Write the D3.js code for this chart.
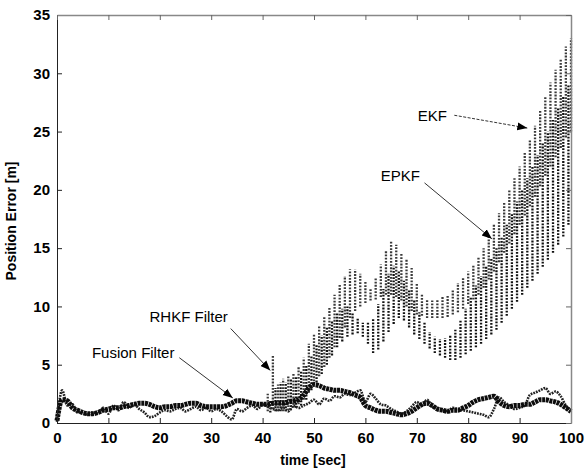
<!DOCTYPE html>
<html><head><meta charset="utf-8">
<script src="https://cdn.jsdelivr.net/npm/d3@7"></script>
<style>
html,body{margin:0;padding:0;background:#fff;}
text{font-family:"Liberation Sans",Arial,Helvetica,sans-serif;}
</style></head>
<body><svg id="c" width="587" height="473"></svg>
<script>
// ---- data ----
const xTicks = [0,10,20,30,40,50,60,70,80,90,100];
const yTicks = [0,5,10,15,20,25,30,35];

// Fusion filter, 1-s samples t=0..100
const fusionT = d3.range(0,101);
const fusionV = [0.2,2.0,1.9,1.3,1.1,0.9,0.8,0.8,0.9,1.1,1.2,1.3,1.3,1.4,1.5,1.6,1.7,1.7,1.6,1.4,
 1.3,1.4,1.4,1.5,1.5,1.6,1.7,1.7,1.5,1.4,1.4,1.4,1.4,1.5,1.7,1.9,1.9,1.8,1.7,1.6,
 1.6,1.6,1.7,1.7,1.7,1.8,1.9,2.0,2.4,3.0,3.3,3.2,3.0,2.9,2.8,2.8,2.7,2.6,2.4,2.2,
 1.5,1.3,1.1,1.0,1.0,0.9,0.8,0.7,0.8,1.0,1.3,1.6,1.7,1.5,1.2,1.1,1.0,1.1,1.1,1.3,
 1.5,1.8,2.0,2.1,2.2,2.3,1.8,1.5,1.4,1.5,1.5,1.6,1.6,1.8,2.0,2.0,1.9,1.8,1.6,1.3,1.0];

// RHKF filter, 1-s samples t=0..100
const rhkfV = [0.1,2.8,1.5,1.6,0.9,1.0,0.7,0.9,0.8,1.3,0.8,1.5,1.1,1.8,1.3,1.6,1.2,0.9,0.5,0.6,
 0.9,1.1,1.0,1.2,1.3,1.0,1.2,1.4,1.1,1.3,1.0,1.2,1.0,0.6,0.3,1.2,1.0,1.3,1.5,1.2,
 1.6,1.4,1.2,1.1,1.3,1.0,1.5,1.3,1.5,1.7,2.0,1.6,2.1,1.9,2.3,2.2,2.5,2.4,2.6,2.8,
 1.8,2.5,2.1,1.6,1.5,1.2,1.0,0.8,1.0,1.4,1.8,1.5,2.0,1.4,1.3,1.1,1.0,1.3,1.2,1.1,
 1.0,0.9,0.8,0.7,0.5,1.2,2.2,1.8,1.5,1.2,1.3,1.5,2.4,2.6,2.8,3.0,2.5,2.7,2.3,1.5,1.1];

// EKF oscillation columns (time, min, max)
const ekfT = d3.range(41,101);
const ekfLow = [1.0,1.2,1.0,1.0,1.1,1.3,1.6,2.0,2.6,3.3,4.0,4.8,5.6,6.5,7.3,8.2,9.0,9.6,10.0,10.3,
 10.5,10.6,10.8,11.0,11.0,10.8,10.5,10.0,9.6,9.3,9.2,9.0,9.0,9.0,9.0,9.1,9.3,9.5,9.8,10.2,
 10.6,11.0,11.6,12.3,13.0,13.8,14.6,15.4,16.2,17.0,17.8,18.6,19.4,20.3,21.2,22.0,22.8,23.6,24.5,25.0];
const ekfHigh = [2.5,5.8,3.3,3.8,4.0,4.3,4.8,5.6,6.8,7.6,8.3,9.2,10.0,11.0,11.9,12.6,13.2,13.2,12.8,12.2,
 11.6,12.4,13.6,14.8,15.6,15.3,14.6,14.0,13.3,12.0,11.0,10.6,10.5,10.6,10.8,11.0,11.4,12.0,12.5,13.0,
 13.5,14.2,15.0,16.0,17.0,18.0,19.0,20.0,21.0,22.0,23.2,24.3,25.5,26.8,28.0,29.2,30.3,31.3,32.3,33.0];

// EPKF oscillation columns (time, min, max)
const epkfT = d3.range(41.5,100,1);
const epkfLow = [0.9,1.0,1.0,1.0,1.1,1.3,1.5,2.0,2.8,3.5,4.2,5.0,5.8,6.5,7.0,7.4,7.6,7.7,7.4,6.8,
 6.0,6.3,7.0,7.8,8.5,9.0,8.8,8.2,7.6,7.2,6.8,6.4,6.0,5.8,5.6,5.4,5.4,5.6,5.9,6.2,
 6.5,6.8,7.2,7.6,8.0,8.6,9.2,9.8,10.4,11.0,11.6,12.2,12.8,13.4,14.0,14.6,15.3,16.0,17.0];
const epkfHigh = [2.0,3.0,3.5,3.5,3.8,4.0,4.5,5.0,5.8,6.8,7.5,8.2,8.8,9.4,9.8,10.0,9.5,9.0,8.6,8.6,
 9.0,10.2,11.5,12.8,13.5,13.0,12.2,11.5,10.5,9.5,8.6,7.8,7.4,7.2,7.3,7.5,8.0,8.8,9.8,10.8,
 11.8,12.6,13.4,14.2,15.0,16.0,17.0,18.0,19.0,20.0,21.0,22.0,23.0,24.0,25.0,26.0,27.0,28.0,29.0];

// annotations: label, text anchor point, arrow tip (data units)
const annLabels = ["EKF","EPKF","RHKF Filter","Fusion Filter"];
const annText = [[70.2,25.9],[63.0,20.8],[18.0,8.7],[6.8,5.6]];
const annFrom = [[77.3,26.4],[71.5,20.6],[33.8,8.1],[23.8,5.6]];
const annTip  = [[91.5,25.3],[84.6,15.8],[41.5,4.5],[34.2,2.15]];

// ---- drawing ----
const svg = d3.select("#c");
const x = d3.scaleLinear().domain([0,100]).range([57,571]);
const y = d3.scaleLinear().domain([0,35]).range([423,15]);

svg.append("defs").append("marker")
  .attr("id","ah").attr("viewBox","0 0 10 10").attr("refX",10).attr("refY",5)
  .attr("markerWidth",10).attr("markerHeight",10).attr("markerUnits","userSpaceOnUse")
  .attr("orient","auto")
  .append("path").attr("d","M0,1 L10,5 L0,9 Z").attr("fill","#000");

const plot = svg.append("g");

// EKF columns
plot.append("g").selectAll("line").data(ekfT).join("line")
  .attr("x1",(d)=>x(d)).attr("x2",(d)=>x(d))
  .attr("y1",(d,i)=>y(ekfLow[i])).attr("y2",(d,i)=>y(ekfHigh[i]))
  .attr("stroke","#3a3a3a").attr("stroke-width",2.3).attr("stroke-dasharray","1.8,1.4");

// EPKF columns
plot.append("g").selectAll("line").data(epkfT).join("line")
  .attr("x1",(d)=>x(d)).attr("x2",(d)=>x(d))
  .attr("y1",(d,i)=>y(epkfLow[i])).attr("y2",(d,i)=>y(epkfHigh[i]))
  .attr("stroke","#111").attr("stroke-width",2.3).attr("stroke-dasharray","1.8,1.4");

const line = d3.line().x(d=>x(d[0])).y(d=>y(d[1])).curve(d3.curveMonotoneX);

// RHKF
plot.append("path").datum(fusionT.map((t,i)=>[t,rhkfV[i]]))
  .attr("d",line).attr("fill","none").attr("stroke","#222")
  .attr("stroke-width",2.6).attr("stroke-dasharray","1.8,1.0");

// Fusion
plot.append("path").datum(fusionT.map((t,i)=>[t,fusionV[i]]))
  .attr("d",line).attr("fill","none").attr("stroke","#0d0d0d")
  .attr("stroke-width",5).attr("stroke-dasharray","3,0.7");

// axes
const fmt = d3.format("d");
const gB = svg.append("g").attr("transform","translate(0,423)")
  .call(d3.axisBottom(x).tickValues(xTicks).tickFormat(fmt).tickSizeInner(-5).tickSizeOuter(0).tickPadding(9));
const gL = svg.append("g").attr("transform","translate(57,0)")
  .call(d3.axisLeft(y).tickValues(yTicks).tickFormat(fmt).tickSizeInner(-5).tickSizeOuter(0).tickPadding(7));
const gT = svg.append("g").attr("transform","translate(0,15)")
  .call(d3.axisTop(x).tickValues(xTicks).tickFormat("").tickSizeInner(-5).tickSizeOuter(0));
const gR = svg.append("g").attr("transform","translate(571,0)")
  .call(d3.axisRight(y).tickValues(yTicks).tickFormat("").tickSizeInner(-5).tickSizeOuter(0));
[gB,gL].forEach(g=>{
  g.selectAll("text").attr("font-size",15).attr("fill","#000").attr("font-weight","bold")
   .attr("font-family","'Liberation Sans',Arial,sans-serif");
  g.select(".domain").attr("stroke","#222");
  g.selectAll(".tick line").attr("stroke","#222");
});
[gT,gR].forEach(g=>{
  g.select(".domain").attr("stroke","#888").attr("stroke-width",1.5);
  g.selectAll(".tick line").attr("stroke","#666");
});

// axis titles
svg.append("text").attr("x",313).attr("y",465).attr("text-anchor","middle")
  .attr("font-size",14).attr("font-weight","bold").text("time [sec]");
svg.append("text").attr("transform","translate(16,221) rotate(-90)").attr("text-anchor","middle")
  .attr("font-size",14).attr("font-weight","bold").text("Position Error [m]");

// annotations
annLabels.forEach((lab,i)=>{
  svg.append("text").attr("x",x(annText[i][0])).attr("y",y(annText[i][1]))
    .attr("font-size",15).attr("fill","#000").text(lab);
  svg.append("line")
    .attr("x1",x(annFrom[i][0])).attr("y1",y(annFrom[i][1]))
    .attr("x2",x(annTip[i][0])).attr("y2",y(annTip[i][1]))
    .attr("stroke","#333").attr("stroke-width",1)
    .attr("stroke-dasharray", i===0 ? "3,1.5" : null)
    .attr("marker-end","url(#ah)");
});
</script></body></html>
